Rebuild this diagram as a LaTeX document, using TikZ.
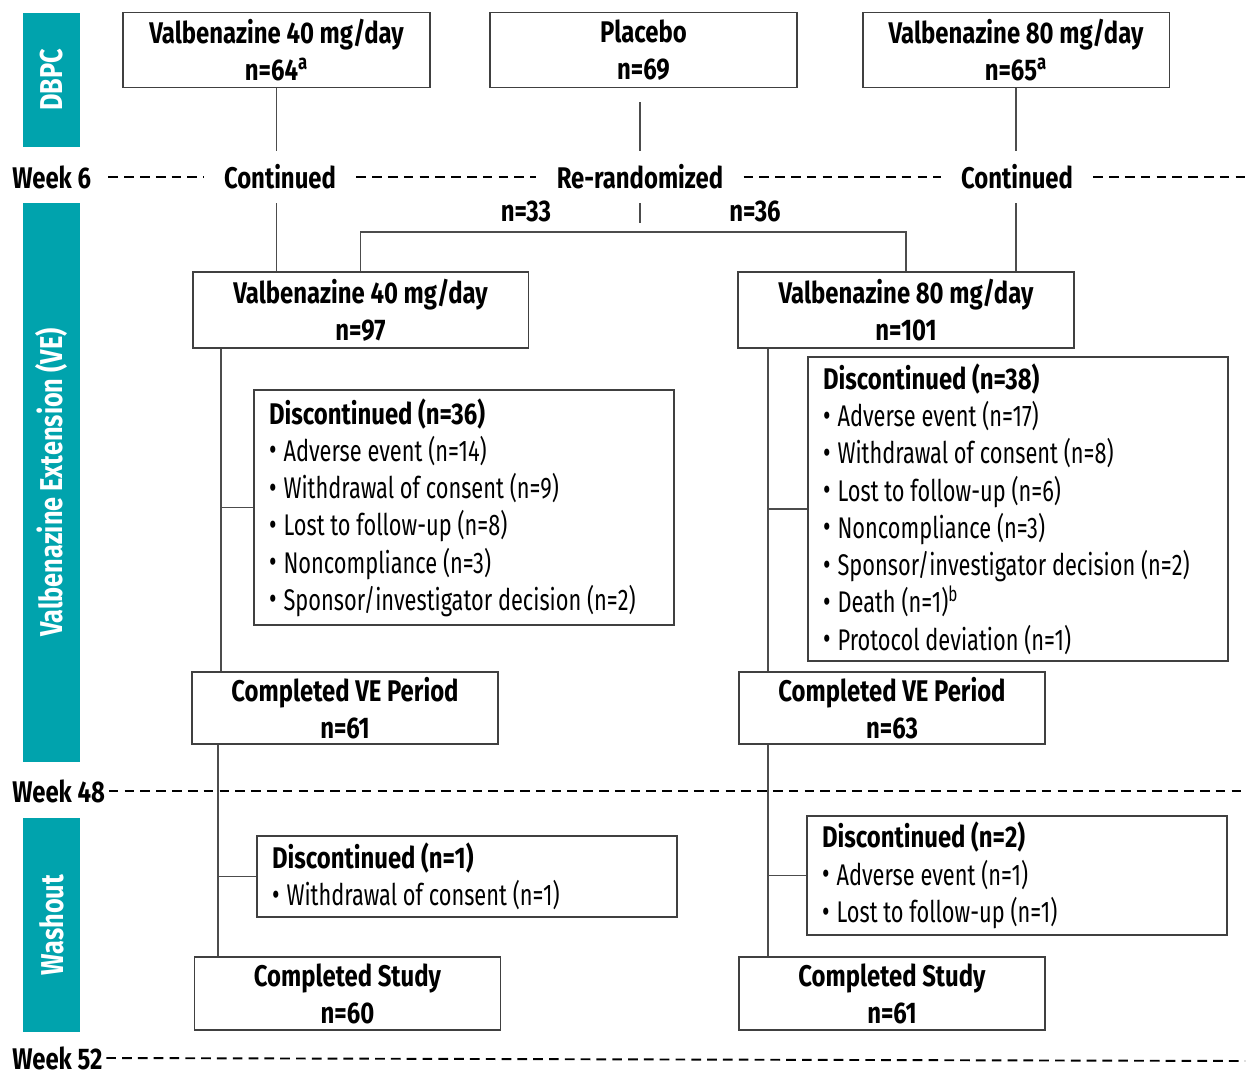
\documentclass[tikz,border=0pt]{standalone}
\usepackage{fontspec}
\setmainfont{Fira Sans}[FakeStretch=0.73]
\newfontfamily\hdfont{Fira Sans}[FakeStretch=0.8]
\definecolor{vteal}{RGB}{0,163,173}
\newcommand{\bul}{\raisebox{0.2pt}{\fontsize{18pt}{18pt}\selectfont\textbullet}\hspace{4pt}}

\begin{document}
\begin{tikzpicture}[x=0.02cm, y=-0.02cm,
    hd/.style={font=\hdfont\bfseries\fontsize{17pt}{21pt}\selectfont},
    topbox/.style={hd, draw=black!75, line width=1.1pt, align=center, minimum width=6.14cm, minimum height=1.5cm, inner sep=0pt},
    vebox/.style={topbox, minimum width=6.72cm, minimum height=1.52cm},
    endbox/.style={topbox, minimum width=6.12cm, minimum height=1.45cm},
    listbox/.style={draw=black!75, line width=1.1pt, align=flush left, text width=7.8cm, inner xsep=0.3cm, inner ysep=0pt,
        font=\fontsize{17pt}{21.2pt}\selectfont},
    sidebar/.style={fill=vteal, text=white, rotate=90, minimum height=1.14cm, inner sep=0pt,
        font=\hdfont\bfseries\fontsize{18pt}{20pt}\selectfont},
    weeklbl/.style={hd, anchor=west, inner sep=0pt},
    phase/.style={hd, inner xsep=0.4cm, inner ysep=0pt, minimum height=1.04cm},
    link/.style={draw=black!70, line width=0.9pt},
    wkline/.style={line width=1.1pt, dash pattern=on 5.5pt off 3.5pt}]
    \useasboundingbox (0,0) rectangle (1248,1078);

    % Phase bars
    \foreach \nm/\yc/\len/\txt in {dbpc/80/2.68cm/DBPC, ext/482.5/11.18cm/Valbenazine Extension (VE), wash/925/4.28cm/Washout} {
        \node[sidebar, minimum width=\len] (\nm) at (51.5,\yc) {\txt};
    }

    % Week labels
    \foreach \wk/\yc in {6/177, 48/791, 52/1058} {
        \node[weeklbl] (wk\wk) at (12,\yc) {Week \wk};
    }

    % DBPC arms
    \node[topbox] (v40) at (276.5,50) {Valbenazine 40 mg/day\\n=64\textsuperscript{a}};
    \node[topbox] (pbo) at (643.5,50) {Placebo\\n=69};
    \node[topbox] (v80) at (1016,50) {Valbenazine 80 mg/day\\n=65\textsuperscript{a}};

    % Week 6
    \node[phase] (cL) at (280,177) {Continued};
    \node[phase] (rr) at (640,177) {Re-randomized};
    \node[phase] (cR) at (1017,177) {Continued};
    \coordinate (e6) at (1245,177);
    \draw[wkline] ([xshift=0.34cm]wk6.east) -- (cL) (cL) -- (rr) (rr) -- (cR) (cR) -- (e6);
    \node[hd] (n33) at (526,211) {n=33};
    \node[hd] (n36) at (755,211) {n=36};

    % Extension arms
    \node[vebox] (v40ve) at (360.5,310) {Valbenazine 40 mg/day\\n=97};
    \node[vebox] (v80ve) at (906,310) {Valbenazine 80 mg/day\\n=101};
    \coordinate (split) at (640,232);
    \draw[link] (v40.south) -- (v40.south |- cL.north);
    \draw[link] (v40.south |- cL.south) -- (v40.south |- v40ve.north);
    \draw[link] (v80.south) -- (v80.south |- cR.north);
    \draw[link] (v80.south |- cR.south) -- (v80.south |- v80ve.north);
    \draw[link] (rr.north) -- ++(0,-49);
    \draw[link] (rr.south) -- ++(0,20);
    \draw[link] (v40ve.north) |- (split) -| (v80ve.north);

    % Discontinued during VE
    \node[listbox, minimum height=4.7cm] (d36) at (464,507.5) {{\hdfont\bfseries Discontinued (n=36)}\\
        \bul Adverse event (n=14)\\
        \bul Withdrawal of consent (n=9)\\
        \bul Lost to follow-up (n=8)\\
        \bul Noncompliance (n=3)\\
        \bul Sponsor/investigator decision (n=2)};
    \node[listbox, minimum height=6.08cm] (d38) at (1018,509) {{\hdfont\bfseries Discontinued (n=38)}\\
        \bul Adverse event (n=17)\\
        \bul Withdrawal of consent (n=8)\\
        \bul Lost to follow-up (n=6)\\
        \bul Noncompliance (n=3)\\
        \bul Sponsor/investigator decision (n=2)\\
        \bul Death (n=1)\textsuperscript{b}\\
        \bul Protocol deviation (n=1)};
    \node[endbox] (cve40) at (345,708) {Completed VE Period\\n=61};
    \node[endbox] (cve80) at (892,708) {Completed VE Period\\n=63};
    \coordinate (trL) at (221,0);
    \coordinate (trR) at (768,0);
    \draw[link] (trL |- v40ve.south) -- (trL |- cve40.north);
    \draw[link] (trL |- d36.west) -- (d36.west);
    \draw[link] (trR |- v80ve.south) -- (trR |- cve80.north);
    \draw[link] (trR |- d38.west) -- (d38.west);

    % Washout
    \node[listbox, minimum height=1.62cm] (d1) at (467,876.5) {{\hdfont\bfseries Discontinued (n=1)}\\
        \bul Withdrawal of consent (n=1)};
    \node[listbox, minimum height=2.38cm] (d2) at (1017,875.5) {{\hdfont\bfseries Discontinued (n=2)}\\
        \bul Adverse event (n=1)\\
        \bul Lost to follow-up (n=1)};
    \node[endbox] (cs40) at (347.5,993.5) {Completed Study\\n=60};
    \node[endbox] (cs80) at (892,993.5) {Completed Study\\n=61};
    \coordinate (trLb) at (218,0);
    \draw[link] (trLb |- cve40.south) -- (trLb |- cs40.north);
    \draw[link] (trLb |- d1.west) -- (d1.west);
    \draw[link] (trR |- cve80.south) -- (trR |- cs80.north);
    \draw[link] (trR |- d2.west) -- (d2.west);

    % Week 48 and 52 lines
    \coordinate (e48) at (1245,791);
    \coordinate (e52) at (1245,1061);
    \draw[wkline] ([xshift=2pt]wk48.east) -- (e48);
    \draw[wkline] ([xshift=2pt]wk52.east) -- (e52);
\end{tikzpicture}
\end{document}
